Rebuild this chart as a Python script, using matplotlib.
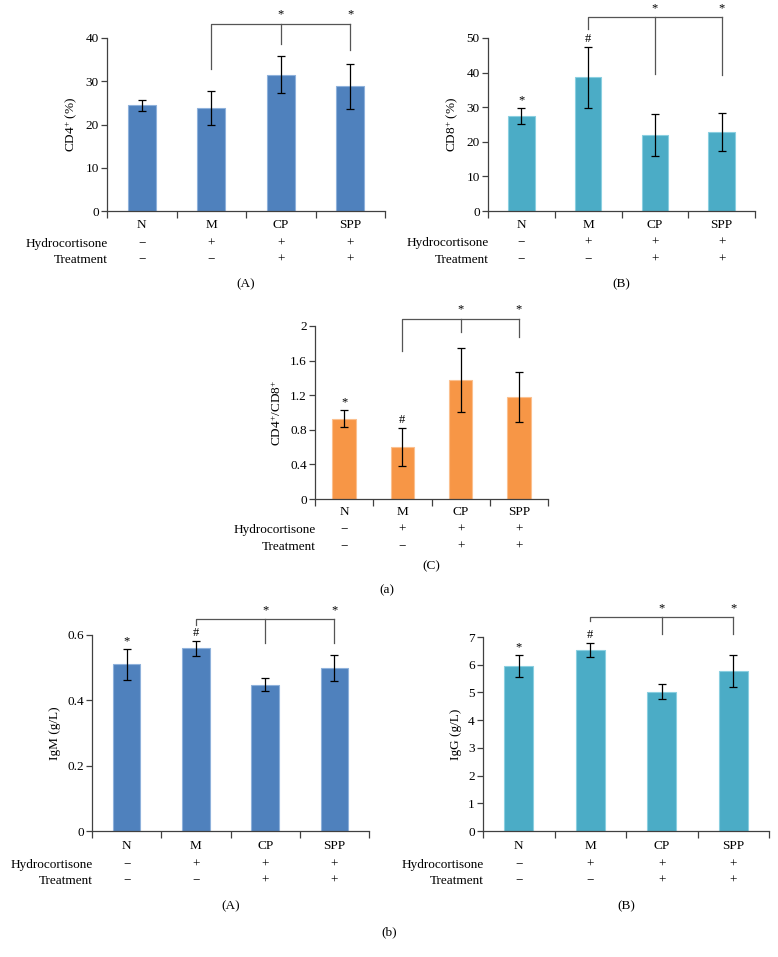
import matplotlib
matplotlib.use('Agg')
import matplotlib.pyplot as plt

plt.rcParams['font.family'] = ['Liberation Serif', 'DejaVu Serif']
plt.rcParams['mathtext.fontset'] = 'custom'
plt.rcParams['mathtext.rm'] = 'Liberation Serif'
plt.rcParams['mathtext.it'] = 'Liberation Serif:italic'
plt.rcParams['font.size'] = 9.5

# groups and treatment rows
groups = ['N', 'M', 'CP', 'SPP']
hydro = ['\u2212', '+', '+', '+']
treat = ['\u2212', '\u2212', '+', '+']

# (a)(A) CD4+
cd4_mean = [24.4, 23.8, 31.5, 28.8]
cd4_err = [1.3, 4.0, 4.3, 5.2]
cd4_marks = ['', '', '', '']
cd4_bracket = [43.3, 32.8, 38.6, 37.3]  # top, M, CP, SPP

# (a)(B) CD8+
cd8_mean = [27.5, 38.6, 21.9, 22.8]
cd8_err = [2.3, 8.8, 6.0, 5.4]
cd8_marks = ['*', '#', '', '']
cd8_bracket = [56.1, 52.6, 39.7, 39.3]

# (a)(C) CD4+/CD8+
ratio_mean = [0.93, 0.60, 1.38, 1.18]
ratio_err = [0.10, 0.22, 0.37, 0.29]
ratio_marks = ['*', '#', '', '']
ratio_bracket = [2.085, 1.715, 1.927, 1.873]

# (b)(A) IgM
igm_mean = [0.510, 0.560, 0.448, 0.499]
igm_err = [0.047, 0.023, 0.020, 0.040]
igm_marks = ['*', '#', '', '']
igm_bracket = [0.649, 0.631, 0.574, 0.576]

# (b)(B) IgG
igg_mean = [5.95, 6.54, 5.03, 5.77]
igg_err = [0.40, 0.25, 0.27, 0.57]
igg_marks = ['*', '#', '', '']
igg_bracket = [7.72, 7.56, 7.11, 7.11]

W, H = 778, 957
fig = plt.figure(figsize=(W / 100, H / 100), dpi=100)

line_col = '#404040'
br_col = '#555555'


def panel(box, means, errs, marks, bracket, color, edge, ylim, yticks, yticklabels,
          ylabel, letter, offs):
    left, right, top, bottom = box
    ax = fig.add_axes([left / W, 1 - bottom / H, (right - left) / W, (bottom - top) / H])
    x = range(len(groups))
    ax.bar(x, means, width=0.4, color=color, edgecolor=edge, linewidth=0.8, zorder=2)
    ax.errorbar(x, means, yerr=errs, fmt='none', ecolor='black', elinewidth=0.9,
                capsize=2.8, capthick=0.9, zorder=3)
    ax.set_xlim(-0.5, 3.5)
    ax.set_ylim(*ylim)
    ax.set_yticks(yticks)
    ax.set_yticklabels(yticklabels)
    ax.set_xticks([-0.5, 0.5, 1.5, 2.5, 3.5])
    ax.set_xticklabels([])
    ax.tick_params(axis='x', length=5, width=0.9, color=line_col)
    ax.tick_params(axis='y', length=4, width=0.9, color=line_col, pad=2)
    for s in ['top', 'right']:
        ax.spines[s].set_visible(False)
    for s in ['left', 'bottom']:
        ax.spines[s].set_color(line_col)
        ax.spines[s].set_linewidth(0.9)
        ax.spines[s].set_zorder(4)
    ax.set_ylabel(ylabel, labelpad=4)

    # marks over N and M
    for i, m in enumerate(marks):
        if m:
            ax.annotate(m, xy=(i, means[i] + errs[i]), xytext=(0, 2),
                        textcoords='offset pixels', ha='center', va='bottom',
                        fontsize=9)

    # significance bracket M -> CP, SPP
    top_y, m_y, cp_y, spp_y = bracket
    kw = dict(color=br_col, lw=0.9, clip_on=False)
    ax.plot([1, 1, 3], [m_y, top_y, top_y], **kw)
    ax.plot([2, 2], [top_y, cp_y], **kw)
    ax.plot([3, 3], [top_y, spp_y], **kw)
    for xi in [2, 3]:
        ax.annotate('*', xy=(xi, top_y), xytext=(0, 3), textcoords='offset pixels',
                    ha='center', va='bottom', fontsize=9, annotation_clip=False)

    # labels under the axis
    c_off, h_off, t_off, l_off = offs
    for i in range(4):
        ax.annotate(groups[i], xy=(i, 0), xycoords=('data', 'axes fraction'),
                    xytext=(0, -c_off), textcoords='offset pixels',
                    ha='center', va='center', annotation_clip=False)
        ax.annotate(hydro[i], xy=(i, 0), xycoords=('data', 'axes fraction'),
                    xytext=(0, -h_off), textcoords='offset pixels',
                    ha='center', va='center', annotation_clip=False)
        ax.annotate(treat[i], xy=(i, 0), xycoords=('data', 'axes fraction'),
                    xytext=(0, -t_off), textcoords='offset pixels',
                    ha='center', va='center', annotation_clip=False)
    ax.annotate('Hydrocortisone', xy=(0, 0), xycoords='axes fraction',
                xytext=(1, -h_off), textcoords='offset pixels',
                ha='right', va='center', annotation_clip=False)
    ax.annotate('Treatment', xy=(0, 0), xycoords='axes fraction',
                xytext=(1, -t_off), textcoords='offset pixels',
                ha='right', va='center', annotation_clip=False)
    ax.annotate(letter, xy=(0.5, 0), xycoords='axes fraction',
                xytext=(0, -l_off), textcoords='offset pixels',
                ha='center', va='center', annotation_clip=False)
    return ax


blue, blue_edge = '#4F81BD', '#8EB1DB'
teal, teal_edge = '#4BACC6', '#8ACFE0'
orange, orange_edge = '#F79646', '#FBC08F'

panel((107, 385, 38, 211), cd4_mean, cd4_err, cd4_marks, cd4_bracket, blue, blue_edge,
      (0, 40), [0, 10, 20, 30, 40], ['0', '10', '20', '30', '40'],
      'CD4$^{+}$ (%)', '(A)', (14, 33, 49, 73))

panel((488, 755, 38, 211), cd8_mean, cd8_err, cd8_marks, cd8_bracket, teal, teal_edge,
      (0, 50), [0, 10, 20, 30, 40, 50], ['0', '10', '20', '30', '40', '50'],
      'CD8$^{+}$ (%)', '(B)', (14, 32, 49, 73))

panel((315, 548, 326, 499), ratio_mean, ratio_err, ratio_marks, ratio_bracket, orange,
      orange_edge, (0, 2), [0, 0.4, 0.8, 1.2, 1.6, 2], ['0', '0.4', '0.8', '1.2', '1.6', '2'],
      'CD4$^{+}$/CD8$^{+}$', '(C)', (13, 31, 48, 67))

panel((92, 369, 635, 831), igm_mean, igm_err, igm_marks, igm_bracket, blue, blue_edge,
      (0, 0.6), [0, 0.2, 0.4, 0.6], ['0', '0.2', '0.4', '0.6'],
      'IgM (g/L)', '(A)', (15, 34, 50, 75))

panel((483, 769, 637, 831), igg_mean, igg_err, igg_marks, igg_bracket, teal, teal_edge,
      (0, 7), list(range(8)), [str(v) for v in range(8)],
      'IgG (g/L)', '(B)', (15, 34, 50, 75))

fig.text(387 / W, 1 - 590 / H, '(a)', ha='center', va='center')
fig.text(389 / W, 1 - 932 / H, '(b)', ha='center', va='center')

fig.savefig('out.png', dpi=100)
